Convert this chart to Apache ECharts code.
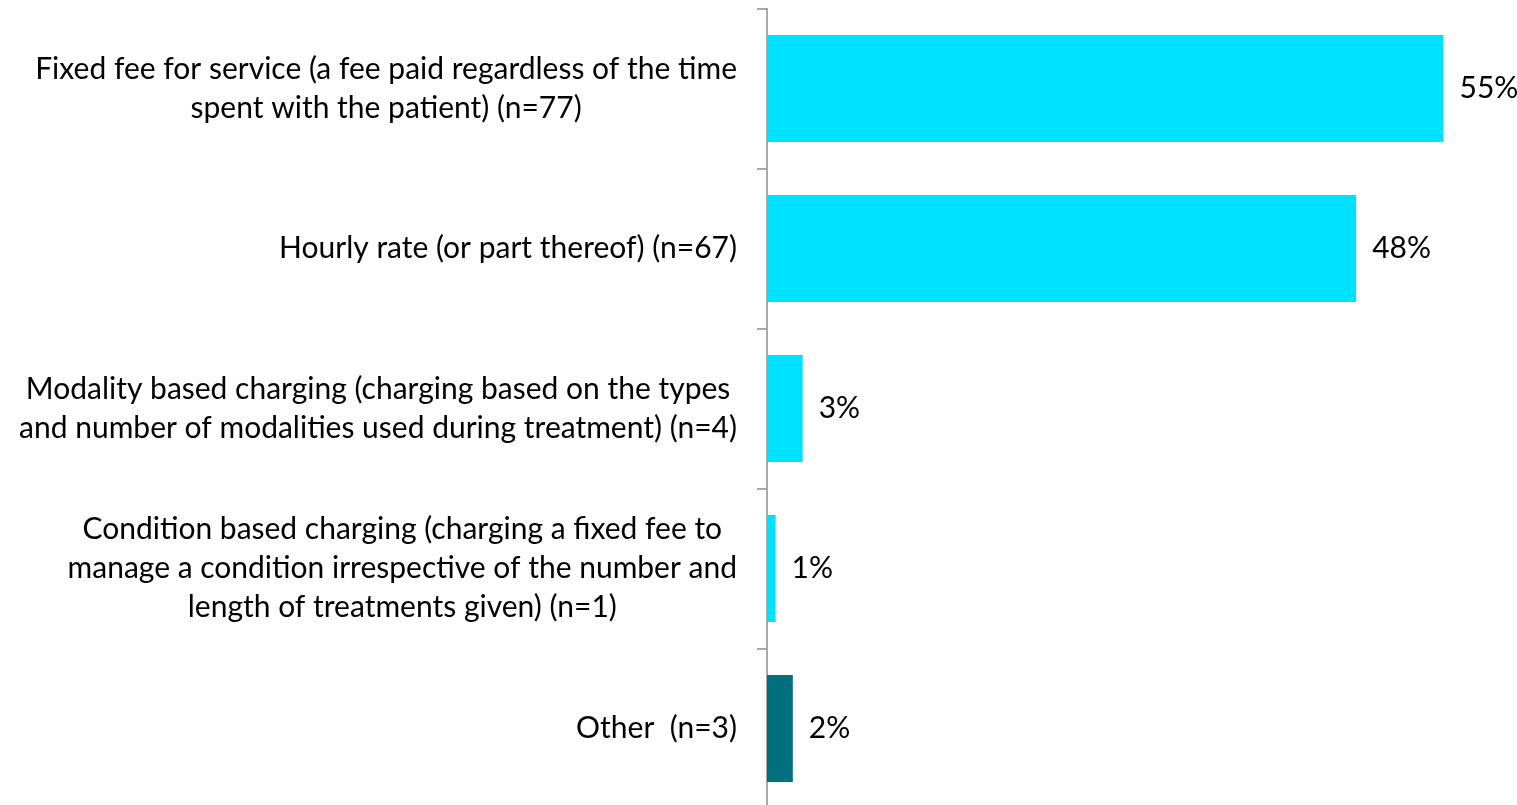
<!DOCTYPE html>
<html>
<head>
<meta charset="utf-8">
<script src="https://cdn.jsdelivr.net/npm/echarts@6/dist/echarts.min.js"></script>
<style>
html,body{margin:0;padding:0;background:#fff;overflow:hidden;}
#chart{width:1517px;height:840px;}
</style>
</head>
<body>
<div id="chart"></div>
<script>
const categories = [
  "Fixed fee for service (a fee paid regardless of the time\nspent with the patient) (n=77)",
  "Hourly rate (or part thereof) (n=67)",
  "Modality based charging (charging based on the types\nand number of modalities used during treatment) (n=4)",
  "Condition based charging (charging a fixed fee to\nmanage a condition irrespective of the number and\nlength of treatments given) (n=1)",
  "Other  (n=3)"
];
const values = [55.0, 47.9, 2.9, 0.7, 2.1];
const valueLabels = ["55%", "48%", "3%", "1%", "2%"];
const barColors = ["#00E1FF", "#00E1FF", "#00E1FF", "#00E1FF", "#00707F"];

const FONT = "Lato";
const FS = 30;
const chart = echarts.init(document.getElementById('chart'));
chart.setOption({
  animation: false,
  grid: { left: 767, right: 12, top: 8.5, height: 800, containLabel: false },
  xAxis: {
    type: 'value', min: 0, max: 60,
    show: false
  },
  yAxis: {
    type: 'category',
    inverse: true,
    data: categories,
    axisLine: { show: true, lineStyle: { color: '#8c8c8c', width: 1.5 } },
    axisTick: { show: true, length: 10, lineStyle: { color: '#8c8c8c', width: 1.5 } },
    axisLabel: {
      margin: 30,
      align: 'right',
      color: '#000',
      fontFamily: FONT,
      fontSize: FS,
      lineHeight: 39,
      formatter: function (v) {
        return v.split('\n').map(l => '{c|' + l + '}').join('\n');
      },
      rich: { c: { align: 'center', fontFamily: FONT, fontSize: FS, lineHeight: 39, color: '#000' } }
    }
  },
  series: [{
    type: 'bar',
    data: values.map((v, i) => ({ value: v, itemStyle: { color: barColors[i] } })),
    barWidth: 107,
    label: {
      show: true,
      position: 'right',
      distance: 16,
      color: '#000',
      fontFamily: FONT,
      fontSize: FS,
      formatter: p => valueLabels[p.dataIndex]
    }
  }]
});
</script>
</body>
</html>
